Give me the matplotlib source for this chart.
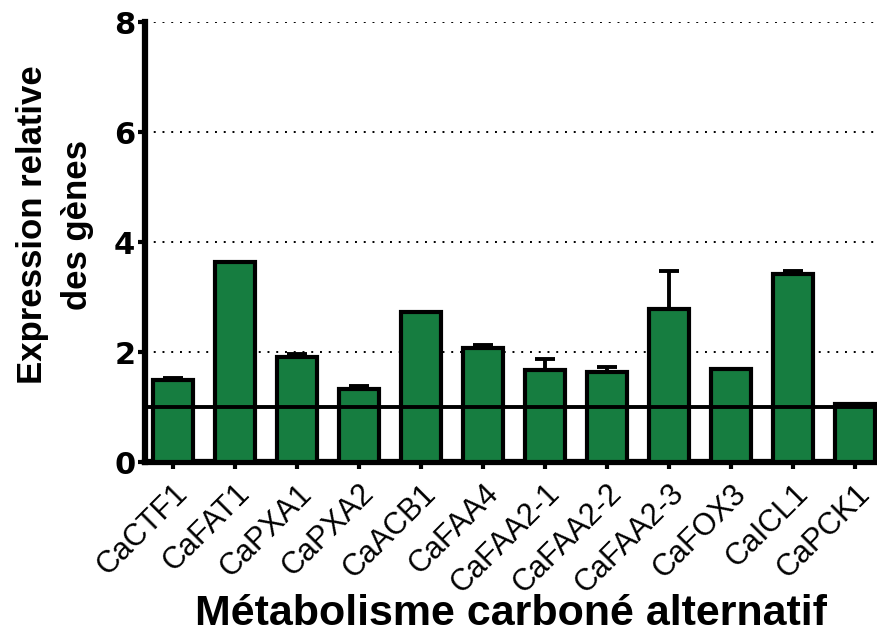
import matplotlib
matplotlib.use("Agg")
import matplotlib.pyplot as plt
import numpy as np

plt.rcParams['font.family'] = ['Liberation Sans', 'DejaVu Sans']

genes = ["CaCTF1", "CaFAT1", "CaPXA1", "CaPXA2", "CaACB1", "CaFAA4",
         "CaFAA2-1", "CaFAA2-2", "CaFAA2-3", "CaFOX3", "CaICL1", "CaPCK1"]
values = [1.49, 3.64, 1.91, 1.33, 2.73, 2.07, 1.67, 1.64, 2.78, 1.69, 3.41, 1.05]
errors = [0.03, 0.0, 0.05, 0.05, 0.0, 0.05, 0.20, 0.09, 0.69, 0.0, 0.06, 0.0]
yticks = [0, 2, 4, 6, 8]

green = "#167D40"

fig = plt.figure(figsize=(8.77, 6.34), dpi=100)
ax = fig.add_axes([145/877, (634-462)/634, 1 - 145/877, (462-22)/634])

x = np.arange(len(genes))
ax.bar(x, values, width=0.65, color=green, edgecolor="black", linewidth=3, zorder=3)
ax.errorbar(x, values, yerr=[np.zeros(len(errors)), errors], fmt="none",
            ecolor="black", elinewidth=2.8, capsize=7, capthick=2.8, zorder=2)
ax.axhline(1.0, color="black", linewidth=2.8, zorder=4)

for yv in yticks[1:]:
    ax.axhline(yv, color="black", linestyle=(0, (1, 3.5)), linewidth=1.4, zorder=1)

ax.set_xlim(-0.45, 11.35)
ax.set_ylim(0, 8)
ax.set_yticks(yticks)
ax.set_yticklabels([str(v) for v in yticks], fontsize=22, fontweight="bold",
                   family=["DejaVu Sans"])
ax.set_xticks(x)
ax.set_xticklabels(genes, rotation=45, ha="right", rotation_mode="anchor", fontsize=22)

for s in ["top", "right"]:
    ax.spines[s].set_visible(False)
ax.spines["left"].set_linewidth(4.5)
ax.spines["bottom"].set_linewidth(4.5)
ax.tick_params(axis="y", length=5, width=3, pad=2)
ax.tick_params(axis="x", length=5, width=3, pad=7)

fig.text(42/877, (634-225)/634, "Expression relative", fontsize=25,
         fontweight="bold", rotation=90, ha="center", va="baseline",
         rotation_mode="anchor")
fig.text(87/877, (634-225)/634, "des gènes", fontsize=25,
         fontweight="bold", rotation=90, ha="center", va="baseline",
         rotation_mode="anchor")
fig.text(511/877, (634-625)/634, "Métabolisme carboné alternatif", fontsize=31,
         fontweight="bold", ha="center", va="baseline")

fig.savefig("out.png", dpi=100)
